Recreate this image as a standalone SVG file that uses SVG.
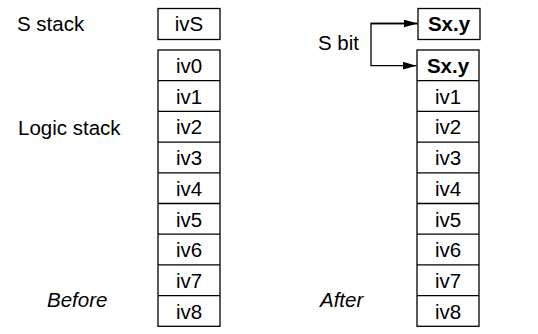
<svg xmlns="http://www.w3.org/2000/svg" width="538" height="334" viewBox="0 0 538 334">
<defs>
<marker id="ah" markerWidth="14" markerHeight="8" refX="14" refY="4" orient="auto" markerUnits="userSpaceOnUse">
<path d="M0,0 L14,4 L0,8 Z" fill="#000"/>
</marker>
<style>
.box{fill:#fff;stroke:#000;stroke-width:1.3}
.t{font-family:"Liberation Sans",Arial,sans-serif;font-size:20.5px;fill:#000}
.c{text-anchor:middle}
.b{font-weight:bold}
.i{font-style:italic}
.ln{fill:none;stroke:#000;stroke-width:1.3}
</style>
</defs>
<rect width="538" height="334" fill="#fff"/>
<text class="t" x="17" y="31">S stack</text>
<text class="t" x="18" y="135">Logic stack</text>
<text class="t i" x="47" y="306.5">Before</text>
<text class="t" x="318" y="50">S bit</text>
<text class="t i" x="320" y="306.5">After</text>
<g id="ivS"><rect class="box" x="158" y="8.5" width="62" height="31"/><text class="t c" x="189" y="31">ivS</text></g>
<g id="before-stack">
<rect class="box" x="158" y="50" width="62" height="276.3"/>
<path class="ln" d="M158,80.7H220M158,111.4H220M158,142.1H220M158,172.8H220M158,203.5H220M158,234.2H220M158,264.9H220M158,295.6H220"/>
<text class="t c" x="189" y="73">iv0</text>
<text class="t c" x="189" y="103.7">iv1</text>
<text class="t c" x="189" y="134.4">iv2</text>
<text class="t c" x="189" y="165.1">iv3</text>
<text class="t c" x="189" y="195.8">iv4</text>
<text class="t c" x="189" y="226.5">iv5</text>
<text class="t c" x="189" y="257.2">iv6</text>
<text class="t c" x="189" y="287.9">iv7</text>
<text class="t c" x="189" y="318.6">iv8</text>
</g>
<g id="SxyTop"><rect class="box" x="418" y="8.5" width="62" height="31"/><text class="t c b" x="449" y="31">Sx.y</text></g>
<g id="after-stack">
<rect class="box" x="417" y="50" width="62" height="276.3"/>
<path class="ln" d="M417,80.7H479M417,111.4H479M417,142.1H479M417,172.8H479M417,203.5H479M417,234.2H479M417,264.9H479M417,295.6H479"/>
<text class="t c b" x="448" y="73">Sx.y</text>
<text class="t c" x="448" y="103.7">iv1</text>
<text class="t c" x="448" y="134.4">iv2</text>
<text class="t c" x="448" y="165.1">iv3</text>
<text class="t c" x="448" y="195.8">iv4</text>
<text class="t c" x="448" y="226.5">iv5</text>
<text class="t c" x="448" y="257.2">iv6</text>
<text class="t c" x="448" y="287.9">iv7</text>
<text class="t c" x="448" y="318.6">iv8</text>
</g>
<g id="connectors">
<path class="ln" d="M417,23.5H371V65.7H416.5" marker-end="url(#ah)"/>
<path class="ln" d="M371,23.5H417.5" marker-end="url(#ah)"/>
</g>
</svg>
